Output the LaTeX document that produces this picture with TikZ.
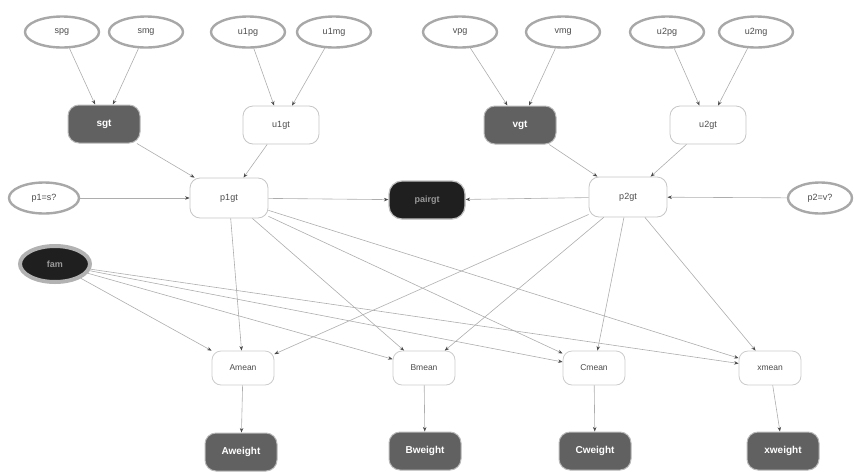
\documentclass[tikz,border=0pt]{standalone}
\usepackage{fontspec}
\setmainfont{Liberation Sans}
\usetikzlibrary{shapes.geometric,arrows.meta}
\definecolor{edge}{gray}{0.68}
\definecolor{rim}{gray}{0.66}
\definecolor{darkfill}{gray}{0.38}
\tikzset{
  evid/.style={ellipse, draw=rim, line width=2.4pt, fill=white, minimum width=74pt, minimum height=31pt, inner sep=0pt, font=\fontsize{9}{10}\selectfont, text=gray!60!black},
  hidden/.style={rectangle, rounded corners=10pt, draw=gray!45, line width=0.8pt, fill=white, minimum width=76pt, minimum height=38pt, font=\fontsize{9}{10}\selectfont, text=gray!60!black},
  meannode/.style={rectangle, rounded corners=9pt, draw=gray!40, line width=0.8pt, fill=white, minimum width=62pt, minimum height=34pt, font=\fontsize{8.5}{10}\selectfont, text=gray!60!black},
  obs/.style={rectangle, rounded corners=11pt, draw=gray!55, line width=1pt, fill=darkfill, minimum width=72pt, minimum height=38pt, font=\bfseries\fontsize{10}{12}\selectfont, text=white},
  blk/.style={rectangle, rounded corners=13pt, draw=gray!50, line width=1.2pt, fill=black!88, minimum width=76pt, minimum height=38pt, font=\bfseries\fontsize{9}{10}\selectfont, text=gray!80},
  famnode/.style={ellipse, draw=gray!60, line width=4pt, fill=black!88, minimum width=70pt, minimum height=36pt, inner sep=0pt, font=\bfseries\fontsize{9}{10}\selectfont, text=gray!80},
  arr/.style={draw=edge, line width=0.6pt, -{Stealth[length=4.5pt,width=3.5pt,color=black!70]}}
}
\begin{document}
\begin{tikzpicture}[x=1pt,y=-1pt]
\useasboundingbox (0,0) rectangle (854,472);
% top evidence ellipses
\node[evid] (spg) at (62,32) {spg};
\node[evid] (smg) at (146,32) {smg};
\node[evid] (u1pg) at (248,32) {u1pg};
\node[evid] (u1mg) at (334,32) {u1mg};
\node[evid] (vpg) at (460,32) {vpg};
\node[evid] (vmg) at (563,32) {vmg};
\node[evid] (u2pg) at (667,32) {u2pg};
\node[evid] (u2mg) at (756,32) {u2mg};
% genotype nodes
\node[obs] (sgt) at (104,124) {sgt};
\node[hidden] (u1gt) at (281,125) {u1gt};
\node[obs] (vgt) at (520,125) {vgt};
\node[hidden] (u2gt) at (708,125) {u2gt};
% parent row
\node[evid, minimum width=70pt] (p1s) at (44,198) {p1=s?};
\node[hidden, minimum width=78pt, minimum height=40pt] (p1gt) at (229,198) {p1gt};
\node[blk] (pair) at (427,200) {pairgt};
\node[hidden, minimum width=78pt, minimum height=40pt] (p2gt) at (628,197) {p2gt};
\node[evid, minimum width=64pt] (p2v) at (820,198) {p2=v?};
\node[famnode] (fam) at (55,264) {fam};
% means
\node[meannode] (Am) at (243,368) {Amean};
\node[meannode] (Bm) at (424,368) {Bmean};
\node[meannode] (Cm) at (594,368) {Cmean};
\node[meannode] (xm) at (770,368) {xmean};
% weights
\node[obs] (Aw) at (241,452) {Aweight};
\node[obs] (Bw) at (425,451) {Bweight};
\node[obs] (Cw) at (595,451) {Cweight};
\node[obs] (xw) at (783,451) {xweight};
% edges
\foreach \a/\b in {spg/sgt, smg/sgt, u1pg/u1gt, u1mg/u1gt, vpg/vgt, vmg/vgt, u2pg/u2gt, u2mg/u2gt,
  sgt/p1gt, u1gt/p1gt, vgt/p2gt, u2gt/p2gt, p1s/p1gt, p2v/p2gt, p1gt/pair, p2gt/pair,
  p1gt/Am, p1gt/Bm, p1gt/Cm, p1gt/xm, p2gt/Am, p2gt/Bm, p2gt/Cm, p2gt/xm,
  fam/Am, fam/Bm, fam/Cm, fam/xm, Am/Aw, Bm/Bw, Cm/Cw, xm/xw}
  \draw[arr] (\a) -- (\b);
\end{tikzpicture}
\end{document}
